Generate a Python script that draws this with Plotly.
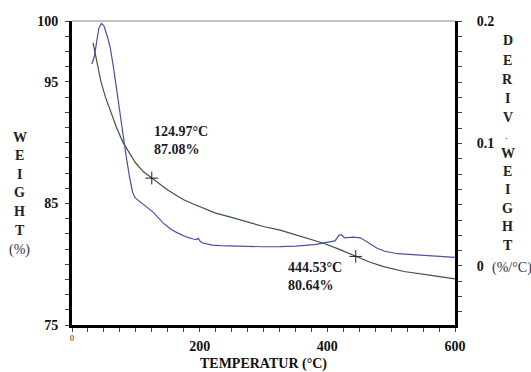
import plotly.graph_objects as go

# Weight (%) curve
temp_w = [33, 40, 45, 52, 60, 70, 80, 90, 100, 112, 125, 140, 150, 165, 175, 190, 200, 225, 250, 279, 300, 326, 357, 380, 394, 420, 444.53, 465, 488, 520, 560, 600]
weight = [98.2, 96.3, 95.1, 93.8, 92.6, 91.2, 90.0, 89.1, 88.3, 87.6, 87.08, 86.5, 86.1, 85.6, 85.3, 84.95, 84.75, 84.2, 83.85, 83.41, 83.1, 82.8, 82.3, 81.95, 81.72, 81.2, 80.64, 80.2, 79.8, 79.4, 79.1, 78.8]

# Derivative weight (%/°C) curve
temp_d = [30.5, 32, 35, 38, 42, 46, 50, 55, 60, 65, 70, 75, 80, 85, 90, 95, 99, 106, 115, 127, 143, 155, 165, 180, 190, 195, 198, 201, 206, 220, 232, 260, 300, 326, 350, 380, 400, 412, 418, 422, 427, 440, 452, 465, 478, 490, 510, 540, 570, 600]
deriv = [0.165, 0.166, 0.171, 0.182, 0.194, 0.198, 0.196, 0.188, 0.178, 0.162, 0.143, 0.125, 0.106, 0.089, 0.073, 0.060, 0.0555, 0.0525, 0.049, 0.044, 0.035, 0.030, 0.027, 0.0235, 0.022, 0.0215, 0.0225, 0.020, 0.0185, 0.017, 0.0166, 0.016, 0.0157, 0.0158, 0.0162, 0.0175, 0.019, 0.0205, 0.025, 0.0255, 0.023, 0.0235, 0.023, 0.019, 0.0145, 0.012, 0.010, 0.009, 0.008, 0.007]

# Marked points
mark_t = [124.97, 444.53]
mark_w = [87.08, 80.64]
mark_txt = ["124.97°C<br>87.08%", "444.53°C<br>80.64%"]

x_ticks = [0, 200, 400, 600]
x_ticktext = ["0", "200", "400", "600"]
yl_ticks = [75, 85, 95, 100]
yl_ticktext = ["75", "85", "95", "100"]
yr_ticks = [0, 0.1, 0.2]
yr_ticktext = ["0", "0.1", "0.2"]

left_title = list("WEIGHT")
right_title_top = list("DERIV")
right_title_bottom = list("WEIGHT")

SERIF = "Liberation Serif"
GREEN = "#3a583a"
BLUE = "#4e4ea6"

# pixel -> paper helpers (plot area: x 72..455, y 21..325)
def px(xp):
    return (xp - 72) / 383.0

def py(yp):
    return (325 - yp) / 304.0

fig = go.Figure()
fig.add_trace(go.Scatter(x=temp_d, y=deriv, mode="lines", line=dict(color=BLUE, width=1.2),
                         yaxis="y2", showlegend=False, hoverinfo="skip"))
fig.add_trace(go.Scatter(x=temp_w, y=weight, mode="lines", line=dict(color=GREEN, width=1.2),
                         showlegend=False, hoverinfo="skip"))
fig.add_trace(go.Scatter(x=mark_t, y=mark_w, mode="markers",
                         marker=dict(symbol="cross-thin", size=9, line=dict(color="#222", width=1)),
                         showlegend=False, hoverinfo="skip"))

fig.add_annotation(x=mark_t[0], y=90.2, text="<b>" + mark_txt[0] + "</b>", showarrow=False,
                   xanchor="left", yanchor="middle", align="left",
                   font=dict(family=SERIF, size=14, color="#1a1a2a"))
fig.add_annotation(x=336, y=79.0, text="<b>" + mark_txt[1] + "</b>", showarrow=False,
                   xanchor="left", yanchor="middle", align="left",
                   font=dict(family=SERIF, size=14, color="#1a1a2a"))

def letters(chars, xpix, ytop, step):
    for i, c in enumerate(chars):
        fig.add_annotation(xref="paper", yref="paper", x=px(xpix), y=py(ytop + i * step),
                           text="<b>" + c + "</b>", showarrow=False, xanchor="center", yanchor="middle",
                           font=dict(family=SERIF, size=14, color="#222"))

letters(left_title, 20, 137, 18.6)
fig.add_annotation(xref="paper", yref="paper", x=px(20), y=py(250), text="(%)",
                   showarrow=False, xanchor="center", yanchor="middle",
                   font=dict(family=SERIF, size=14, color="#334"))
letters(right_title_top, 508, 41, 19.2)
fig.add_annotation(xref="paper", yref="paper", x=px(506), y=py(135), text=".",
                   showarrow=False, xanchor="center", yanchor="middle",
                   font=dict(family=SERIF, size=11, color=BLUE))
letters(right_title_bottom, 508, 153, 18.4)
fig.add_annotation(xref="paper", yref="paper", x=px(490), y=py(268), text="(%/°C)", xanchor="left",
                   yanchor="middle", showarrow=False, font=dict(family=SERIF, size=14, color="#334"))

# thin top border
fig.add_shape(type="line", xref="paper", yref="paper", x0=0, x1=1, y0=1, y1=1,
              line=dict(color="#888", width=1))

fig.update_layout(
    width=531, height=372,
    margin=dict(l=72, r=76, t=21, b=47),
    paper_bgcolor="white", plot_bgcolor="white",
    font=dict(family=SERIF, color="#111"),
    xaxis=dict(range=[0, 600], tickvals=x_ticks[1:], ticktext=x_ticktext[1:],
               showgrid=False, zeroline=False, showline=True, linecolor="#000", linewidth=3,
               ticks="outside", ticklen=4, tickcolor="#444", automargin=False,
               minor=dict(dtick=25, tick0=0, ticks="outside", ticklen=4, tickcolor="#444"),
               tickfont=dict(family=SERIF, size=14, weight="bold", color="#111"),
               ticklabelstandoff=2,
               title=dict(text="<b>TEMPERATUR (°C)</b>", font=dict(family=SERIF, size=14, color="#111"), standoff=23)),
    yaxis=dict(range=[75, 100], tickvals=yl_ticks, ticktext=yl_ticktext,
               showgrid=False, zeroline=False, showline=True, linecolor="#000", linewidth=3,
               ticks="outside", ticklen=4, tickcolor="#444",
               minor=dict(dtick=1.25, tick0=75, ticks="outside", ticklen=4, tickcolor="#444"),
               tickfont=dict(family=SERIF, size=14, weight="bold", color="#111"),
               ticklabelstandoff=4),
    yaxis2=dict(range=[-0.0482, 0.2], overlaying="y", side="right", tickvals=yr_ticks, ticktext=yr_ticktext,
                showgrid=False, zeroline=False, showline=True, linecolor="#000", linewidth=3,
                ticks="outside", ticklen=4, tickcolor="#444",
                minor=dict(dtick=0.0125, tick0=0, ticks="outside", ticklen=4, tickcolor="#444"),
                tickfont=dict(family=SERIF, size=14, weight="bold", color="#111"),
                ticklabelstandoff=12),
)

# small "0" tick label at the origin
fig.add_annotation(x=x_ticks[0], xref="x", yref="paper", y=py(338), text=x_ticktext[0], showarrow=False,
                   xanchor="center", yanchor="middle", font=dict(family=SERIF, size=8, color="#111"))

fig.write_html("out.html")
